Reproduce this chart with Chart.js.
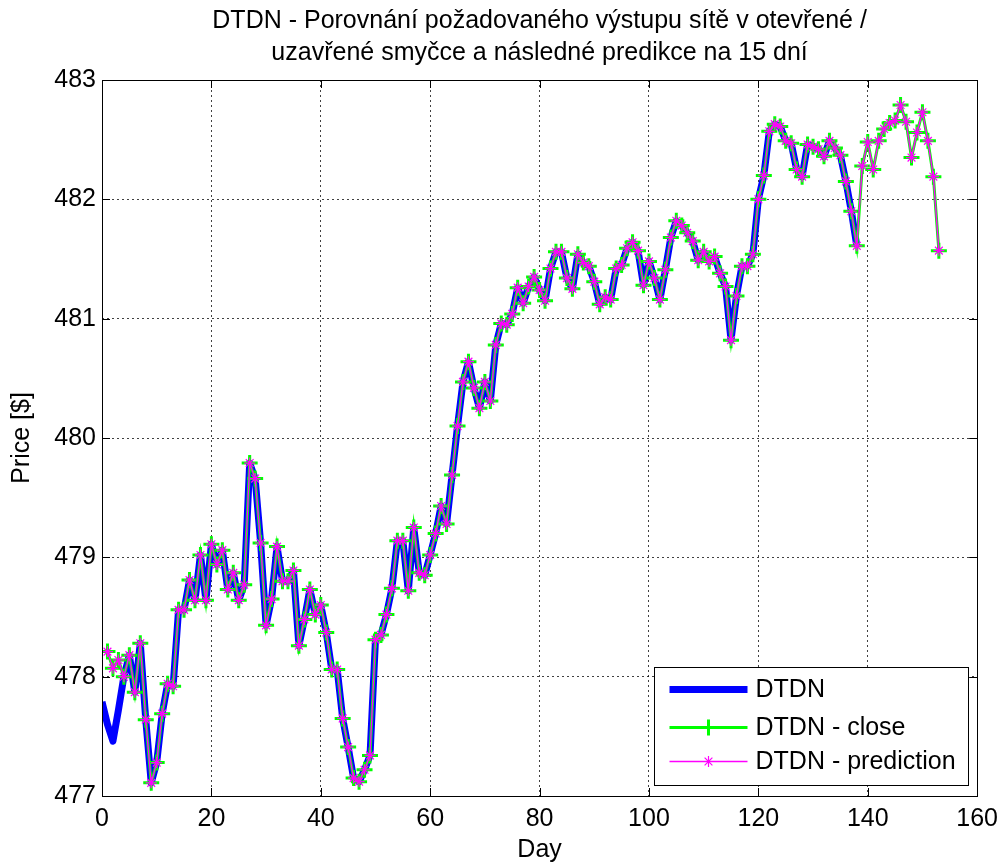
<!DOCTYPE html>
<html>
<head>
<meta charset="utf-8">
<title>DTDN</title>
<script src="https://cdn.jsdelivr.net/npm/chart.js@4/dist/chart.umd.min.js"></script>
<style>
    html, body { margin: 0; padding: 0; background: #fff; }
    #wrap { width: 1006px; height: 865px; }
</style>
</head>
<body>
<div id="wrap"><canvas id="chart" width="1006" height="865"></canvas></div>
<script>
// Hodnoty (den 1..153)
const closeValues = [
    478.21, 478.07, 478.14, 478.00, 478.18, 477.87, 478.28, 477.64, 477.11, 477.28,
    477.69, 477.94, 477.92, 478.56, 478.56, 478.81, 478.64, 479.02, 478.64, 479.11,
    478.94, 479.06, 478.73, 478.87, 478.64, 478.77, 479.79, 479.66, 479.12, 478.43,
    478.65, 479.09, 478.80, 478.80, 478.89, 478.26, 478.48, 478.73, 478.52, 478.60,
    478.37, 478.06, 478.06, 477.65, 477.41, 477.15, 477.12, 477.22, 477.34, 478.31,
    478.35, 478.52, 478.74, 479.14, 479.14, 478.72, 479.25, 478.87, 478.85, 479.02,
    479.20, 479.43, 479.28, 479.69, 480.10, 480.47, 480.64, 480.42, 480.25, 480.47,
    480.31, 480.78, 480.96, 480.95, 481.04, 481.26, 481.13, 481.27, 481.35, 481.24,
    481.15, 481.42, 481.56, 481.56, 481.34, 481.25, 481.54, 481.47, 481.44, 481.31,
    481.12, 481.18, 481.16, 481.42, 481.45, 481.59, 481.64, 481.57, 481.28, 481.48,
    481.34, 481.16, 481.41, 481.68, 481.82, 481.78, 481.72, 481.65, 481.49, 481.56,
    481.48, 481.52, 481.38, 481.27, 480.82, 481.19, 481.44, 481.44, 481.54, 482.00,
    482.20, 482.57, 482.63, 482.61, 482.49, 482.47, 482.25, 482.19, 482.46, 482.44,
    482.42, 482.36, 482.49, 482.43, 482.37, 482.15, 481.90, 481.61, 482.28, 482.48,
    482.25, 482.49, 482.59, 482.64, 482.66, 482.79, 482.65, 482.35, 482.56, 482.73,
    482.49, 482.19, 481.57
];

// predikce se v grafu kryje s "close"
const predictionValues = closeValues.slice();

// DTDN (modrá) - dny 0..3 jsou jiné, pak se kryje s "close" až do dne 138
const dtdnStart = [477.79, 477.60, 477.46, 477.72];
const dtdnValues = dtdnStart.concat(closeValues.slice(3, 138));

const yTicks = [477, 478, 479, 480, 481, 482, 483];
const xTicks = [0, 20, 40, 60, 80, 100, 120, 140, 160];

const titleLines = [
    "DTDN - Porovnání požadovaného výstupu sítě v otevřené /",
    "uzavřené smyčce a následné predikce na 15 dní"
];

const FONT = '"Liberation Sans", Arial, Helvetica, sans-serif';
const FS = 25;

// Rámeček os s dovnitř otočenými značkami + legenda (jako v MATLABu)
const matlabFrame = {
    id: "matlabFrame",
    afterDraw(chart) {
        const { ctx, chartArea: a, scales } = chart;
        const tl = 8;
        ctx.save();
        ctx.strokeStyle = "#000";
        ctx.lineWidth = 1;
        ctx.beginPath();
        xTicks.forEach((t) => {
            const x = Math.round(scales.x.getPixelForValue(t)) + 0.5;
            ctx.moveTo(x, a.bottom); ctx.lineTo(x, a.bottom - tl);
            ctx.moveTo(x, a.top); ctx.lineTo(x, a.top + tl);
        });
        yTicks.forEach((t) => {
            const y = Math.round(scales.y.getPixelForValue(t)) + 0.5;
            ctx.moveTo(a.left, y); ctx.lineTo(a.left + tl, y);
            ctx.moveTo(a.right, y); ctx.lineTo(a.right - tl, y);
        });
        ctx.stroke();
        ctx.strokeRect(Math.round(a.left) + 0.5, Math.round(a.top) + 0.5,
            Math.round(a.right - a.left), Math.round(a.bottom - a.top));

        // legenda
        const bw = 314, bh = 118;
        const bx = Math.round(a.right - 9 - bw) + 0.5;
        const by = Math.round(a.bottom - 11 - bh) + 0.5;
        ctx.fillStyle = "#fff";
        ctx.fillRect(bx, by, bw, bh);
        ctx.strokeRect(bx, by, bw, bh);
        const rows = [by + 22, by + 60, by + 94];
        const lx1 = bx + 15, lx2 = bx + 93, mx = (lx1 + lx2) / 2;
        ctx.lineCap = "butt";
        chart.data.datasets.forEach((ds, i) => {
            const y = rows[i];
            ctx.strokeStyle = ds.borderColor;
            ctx.lineWidth = ds.borderWidth;
            ctx.beginPath();
            ctx.moveTo(lx1, y); ctx.lineTo(lx2, y);
            ctx.stroke();
            if (ds.pointRadius > 0) {
                ctx.lineWidth = ds.pointBorderWidth;
                ctx.strokeStyle = ds.pointBorderColor;
                Chart.helpers.drawPoint(ctx, {
                    pointStyle: ds.pointStyle,
                    radius: ds.pointRadius,
                    borderWidth: ds.pointBorderWidth,
                    rotation: 0
                }, mx, y);
            }
            ctx.fillStyle = "#000";
            ctx.font = FS + "px " + FONT;
            ctx.textBaseline = "middle";
            ctx.textAlign = "left";
            ctx.fillText(ds.label, bx + 101, y + 1);
        });
        ctx.restore();
    }
};

const toPoints = (vals, first) => vals.map((v, i) => ({ x: i + first, y: v }));

const ctx = document.getElementById("chart").getContext("2d");
new Chart(ctx, {
    type: "line",
    data: {
        datasets: [
            {
                label: "DTDN",
                data: toPoints(dtdnValues, 0),
                borderColor: "#0000ff",
                borderWidth: 7,
                borderJoinStyle: "round",
                pointRadius: 0,
                tension: 0,
                order: 3
            },
            {
                label: "DTDN - close",
                data: toPoints(closeValues, 1),
                borderColor: "#00ff00",
                borderWidth: 3,
                pointStyle: "cross",
                pointRadius: 8,
                pointBorderWidth: 3,
                pointBorderColor: "#00ff00",
                tension: 0,
                order: 2
            },
            {
                label: "DTDN - prediction",
                data: toPoints(predictionValues, 1),
                borderColor: "#ff00ff",
                borderWidth: 1.4,
                pointStyle: "star",
                pointRadius: 5.5,
                pointBorderWidth: 1.2,
                pointBorderColor: "#ff00ff",
                tension: 0,
                order: 1
            }
        ]
    },
    options: {
        responsive: false,
        animation: false,
        devicePixelRatio: 1,
        events: [],
        layout: { padding: { left: 0, right: 28, top: 0, bottom: 0 } },
        plugins: {
            legend: { display: false },
            tooltip: { enabled: false },
            title: {
                display: true,
                fullSize: false,
                text: titleLines,
                color: "#000",
                font: { family: FONT, size: FS, weight: "normal", lineHeight: 1.28 },
                padding: { top: 5, bottom: 11 }
            }
        },
        scales: {
            x: {
                type: "linear",
                min: 0,
                max: 160,
                afterBuildTicks: (s) => { s.ticks = xTicks.map((v) => ({ value: v })); },
                afterFit: (s) => { s.height = 69; },
                ticks: { color: "#000", font: { family: FONT, size: FS }, padding: 8, maxRotation: 0 },
                grid: { color: "rgba(0,0,0,0.75)", lineWidth: 1, drawTicks: false },
                border: { display: false, dash: [2, 3] },
                title: {
                    display: true, text: "Day", color: "#000",
                    font: { family: FONT, size: FS }, padding: { top: 0, bottom: 0 }
                }
            },
            y: {
                min: 477,
                max: 483,
                afterBuildTicks: (s) => { s.ticks = yTicks.map((v) => ({ value: v })); },
                afterFit: (s) => { s.width = 102; },
                ticks: { color: "#000", font: { family: FONT, size: FS }, padding: 6 },
                grid: { color: "rgba(0,0,0,0.75)", lineWidth: 1, drawTicks: false },
                border: { display: false, dash: [2, 3] },
                title: {
                    display: true, text: "Price [$]", color: "#000",
                    font: { family: FONT, size: FS }, padding: { top: 7, bottom: 0 }
                }
            }
        }
    },
    plugins: [matlabFrame]
});
</script>
</body>
</html>
